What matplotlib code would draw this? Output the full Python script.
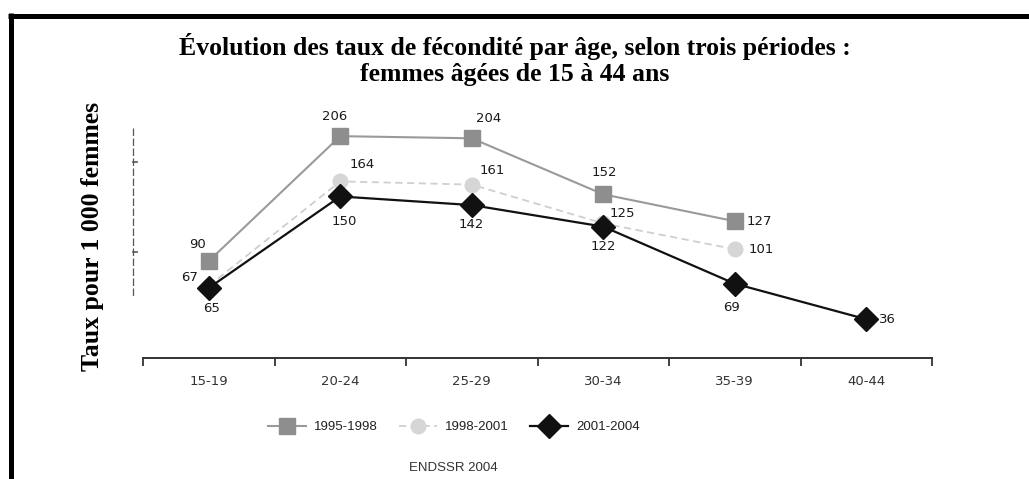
import matplotlib
matplotlib.use("Agg")
import matplotlib.pyplot as plt
from matplotlib.lines import Line2D
from matplotlib import font_manager

# data
age_groups = ["15-19", "20-24", "25-29", "30-34", "35-39", "40-44"]
rates_1995_1998 = [90, 206, 204, 152, 127]
rates_1998_2001 = [67, 164, 161, 125, 101]
rates_2001_2004 = [65, 150, 142, 122, 69, 36]
periods = ["1995-1998", "1998-2001", "2001-2004"]

# label offsets in points, one per point
off_a = [(-8, 12), (-4, 14), (12, 14), (1, 16), (18, 0)]
off_b = [(-14, 6), (16, 12), (15, 10), (14, 7), (19, 0)]
off_c = [(2, -15), (3, -18), (0, -14), (0, -14), (-2, -17), (15, 0)]

W, H = 1029, 479
fig = plt.figure(figsize=(W / 100, H / 100), dpi=100)

def fx(px):
    return px / W

def fy(py):
    return 1 - py / H

names = {f.name for f in font_manager.fontManager.ttflist}
narrow = "Liberation Sans Narrow" if "Liberation Sans Narrow" in names else "Liberation Sans"
nsize = 11 if narrow == "Liberation Sans Narrow" else 9.5
sans = "DejaVu Sans"
serif = "Liberation Serif"

ax = fig.add_axes([fx(143), fy(358), fx(932) - fx(143), fy(120) - fy(358)])

x = list(range(len(age_groups)))
ax.plot(x[:5], rates_1995_1998, color="#9a9a9a", lw=1.5, marker="s", ms=11.5,
        mfc="#8e8e8e", mec="#8e8e8e", label=periods[0], zorder=3)
ax.plot(x[:5], rates_1998_2001, color="#cfcfcf", lw=1.3, ls=(0, (4, 2.5)), marker="o",
        ms=10.5, mfc="#d6d6d6", mec="#d6d6d6", label=periods[1], zorder=2)
ax.plot(x, rates_2001_2004, color="#111111", lw=1.6, marker="D", ms=12.5,
        mfc="#111111", mec="#111111", label=periods[2], zorder=4)

for vals, offs in [(rates_1995_1998, off_a), (rates_1998_2001, off_b), (rates_2001_2004, off_c)]:
    for i, v in enumerate(vals):
        ax.annotate(str(v), (i, v), xytext=offs[i], textcoords="offset points",
                    ha="center", va="center", fontsize=9.5, family=sans, color="#1a1a1a",
                    zorder=5)

ax.set_xlim(-0.5, 5.5)
ax.set_ylim(0, 221)
ax.set_xticks([i - 0.5 for i in range(7)])
ax.set_xticklabels([])
ax.set_xticks(x, minor=True)
ax.set_xticklabels(age_groups, minor=True, fontsize=9.5, family=sans, color="#333333")
ax.tick_params(axis="x", which="major", length=6, width=1.3, color="#333333", direction="out")
ax.tick_params(axis="x", which="minor", length=0, pad=12)
ax.set_yticks([])
for s in ["top", "right", "left"]:
    ax.spines[s].set_visible(False)
ax.spines["bottom"].set_color("#333333")
ax.spines["bottom"].set_linewidth(1.4)

# faint remnant of a y axis
fig.add_artist(Line2D([fx(133), fx(133)], [fy(128), fy(297)], color="#555555", lw=0.9,
                      ls=(0, (6, 2))))
for ty in [162, 252]:
    fig.add_artist(Line2D([fx(133), fx(137)], [fy(ty), fy(ty)], color="#555555", lw=1.2))

fig.text(fx(515), fy(46), "Évolution des taux de fécondité par âge, selon trois périodes :",
         ha="center", va="center", fontsize=18.5, fontweight="bold", family=serif)
fig.text(fx(515), fy(74), "femmes âgées de 15 à 44 ans",
         ha="center", va="center", fontsize=18.5, fontweight="bold", family=serif)
fig.text(fx(93), fy(236), "Taux pour 1 000 femmes", rotation=90,
         ha="center", va="center", fontsize=18.5, fontweight="bold", family=serif)

leg = fig.legend(loc="center", bbox_to_anchor=(fx(454), fy(427)), ncol=3, frameon=False,
                 prop={"family": narrow, "size": nsize}, handlelength=2.9, handletextpad=0.6,
                 columnspacing=1.6)
for t in leg.get_texts():
    t.set_color("#222222")

fig.text(fx(453), fy(468), "ENDSSR 2004", ha="center", va="center", fontsize=nsize,
         family=narrow, color="#333333")

# black frame (top and left)
fig.add_artist(Line2D([fx(8), 1], [fy(15.5), fy(15.5)], color="black", lw=3.6,
                      solid_capstyle="butt"))
fig.add_artist(Line2D([fx(10.5), fx(10.5)], [fy(13), 0], color="black", lw=3.6,
                      solid_capstyle="butt"))

fig.savefig("out.png", dpi=100)
